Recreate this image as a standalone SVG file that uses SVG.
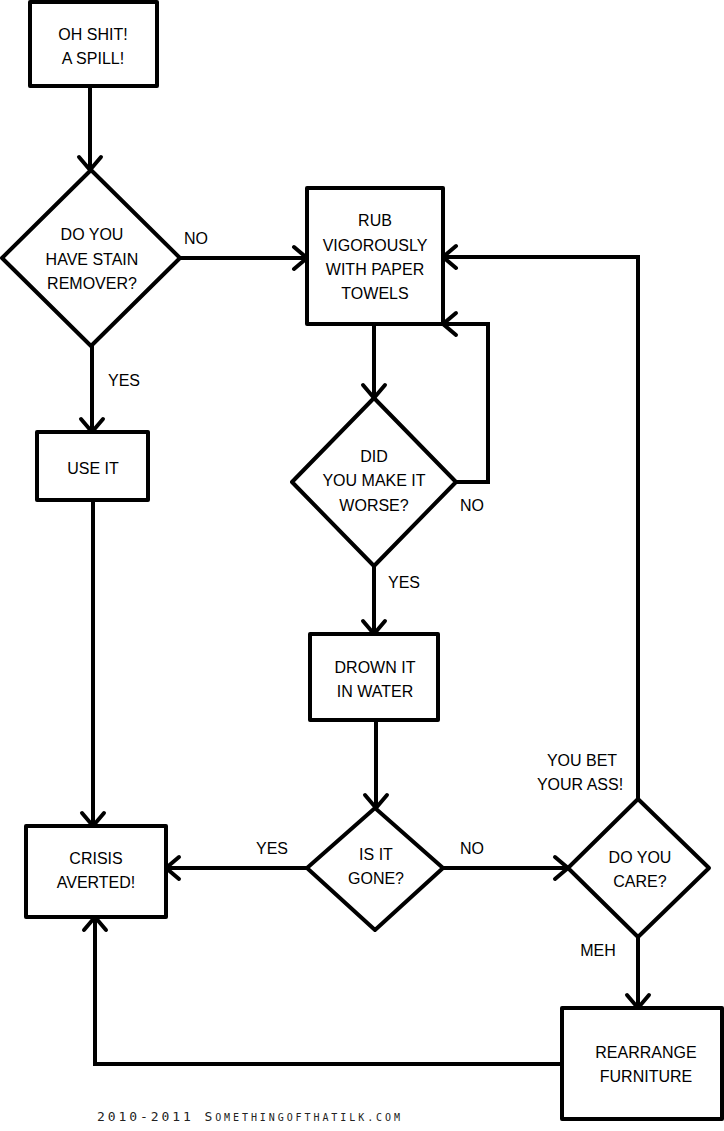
<svg xmlns="http://www.w3.org/2000/svg" width="724" height="1131" viewBox="0 0 724 1131">
<style>
.shape{fill:#fff;stroke:#000;stroke-width:4;stroke-linejoin:round}
.edge{fill:none;stroke:#000;stroke-width:4;stroke-linejoin:miter}
.t{font-family:"Liberation Sans",Arial,sans-serif;font-size:16px;fill:#000;text-anchor:middle}
.lbl{font-family:"Liberation Sans",Arial,sans-serif;font-size:16px;fill:#000;text-anchor:middle}
.foot{font-family:"DejaVu Sans Mono","Liberation Mono",monospace;fill:#222}
</style>
<defs>
<marker id="arr" markerUnits="userSpaceOnUse" markerWidth="30" markerHeight="30" viewBox="-16 -15 20 30" refX="0" refY="0" orient="auto">
<path d="M-13,-11 L0,0 L-13,11" fill="none" stroke="#000" stroke-width="4" stroke-linecap="round" stroke-linejoin="miter"/>
</marker>
</defs>
<rect width="724" height="1131" fill="#fff"/>
<g id="connectors">
<path class="edge" d="M90,86 L90,170" marker-end="url(#arr)"/>
<path class="edge" d="M180,258 L307,258" marker-end="url(#arr)"/>
<path class="edge" d="M92,346 L92,432" marker-end="url(#arr)"/>
<path class="edge" d="M93,500 L93,826" marker-end="url(#arr)"/>
<path class="edge" d="M374,324 L374,398" marker-end="url(#arr)"/>
<path class="edge" d="M456,482 L488,482 L488,324 L443,324" marker-end="url(#arr)"/>
<path class="edge" d="M374,566 L374,634" marker-end="url(#arr)"/>
<path class="edge" d="M376,720 L376,808" marker-end="url(#arr)"/>
<path class="edge" d="M307,868 L166,868" marker-end="url(#arr)"/>
<path class="edge" d="M443,868 L568,868" marker-end="url(#arr)"/>
<path class="edge" d="M638,799 L638,257 L443,257" marker-end="url(#arr)"/>
<path class="edge" d="M638,937 L638,1008" marker-end="url(#arr)"/>
<path class="edge" d="M562,1064 L95,1064 L95,917" marker-end="url(#arr)"/>
</g>
<g id="labels">
<text class="lbl" x="196" y="244">NO</text>
<text class="lbl" x="124" y="386">YES</text>
<text class="lbl" x="472" y="511">NO</text>
<text class="lbl" x="404" y="588">YES</text>
<text class="lbl" x="272" y="854">YES</text>
<text class="lbl" x="472" y="854">NO</text>
<text class="lbl" x="582" y="766">YOU BET</text>
<text class="lbl" x="580" y="790">YOUR ASS!</text>
<text class="lbl" x="598" y="956">MEH</text>
</g>
<g id="n-spill">
<rect class="shape" x="30" y="2" width="127" height="84"/>
<text class="t" x="93" y="40">OH SHIT!</text>
<text class="t" x="93" y="64">A SPILL!</text>
</g>
<g id="n-stain">
<polygon class="shape" points="91,170 180,258 91,346 2,258"/>
<text class="t" x="92" y="240">DO YOU</text>
<text class="t" x="92" y="265">HAVE STAIN</text>
<text class="t" x="92" y="289">REMOVER?</text>
</g>
<g id="n-rub">
<rect class="shape" x="307" y="188" width="136" height="136"/>
<text class="t" x="375" y="226">RUB</text>
<text class="t" x="375" y="251">VIGOROUSLY</text>
<text class="t" x="375" y="275">WITH PAPER</text>
<text class="t" x="375" y="299">TOWELS</text>
</g>
<g id="n-useit">
<rect class="shape" x="37" y="432" width="111" height="68"/>
<text class="t" x="93" y="474">USE IT</text>
</g>
<g id="n-worse">
<polygon class="shape" points="374,398 456,482 374,566 292,482"/>
<text class="t" x="374" y="462">DID</text>
<text class="t" x="374" y="486">YOU MAKE IT</text>
<text class="t" x="374" y="511">WORSE?</text>
</g>
<g id="n-drown">
<rect class="shape" x="310" y="634" width="128" height="86"/>
<text class="t" x="375" y="673">DROWN IT</text>
<text class="t" x="375" y="697">IN WATER</text>
</g>
<g id="n-gone">
<polygon class="shape" points="375,808 443,868 375,930 307,868"/>
<text class="t" x="376" y="860">IS IT</text>
<text class="t" x="376" y="884">GONE?</text>
</g>
<g id="n-crisis">
<rect class="shape" x="26" y="826" width="140" height="91"/>
<text class="t" x="96" y="864">CRISIS</text>
<text class="t" x="96" y="888">AVERTED!</text>
</g>
<g id="n-care">
<polygon class="shape" points="638,799 709,868 638,937 568,868"/>
<text class="t" x="640" y="863">DO YOU</text>
<text class="t" x="640" y="887">CARE?</text>
</g>
<g id="n-rearrange">
<rect class="shape" x="562" y="1008" width="160" height="111"/>
<text class="t" x="646" y="1058">REARRANGE</text>
<text class="t" x="646" y="1082">FURNITURE</text>
</g>
<text class="foot" x="97" y="1121" textLength="303" lengthAdjust="spacing"><tspan font-size="13">2010-2011 S</tspan><tspan font-size="10">OMETHINGOFTHATILK.COM</tspan></text>
</svg>
